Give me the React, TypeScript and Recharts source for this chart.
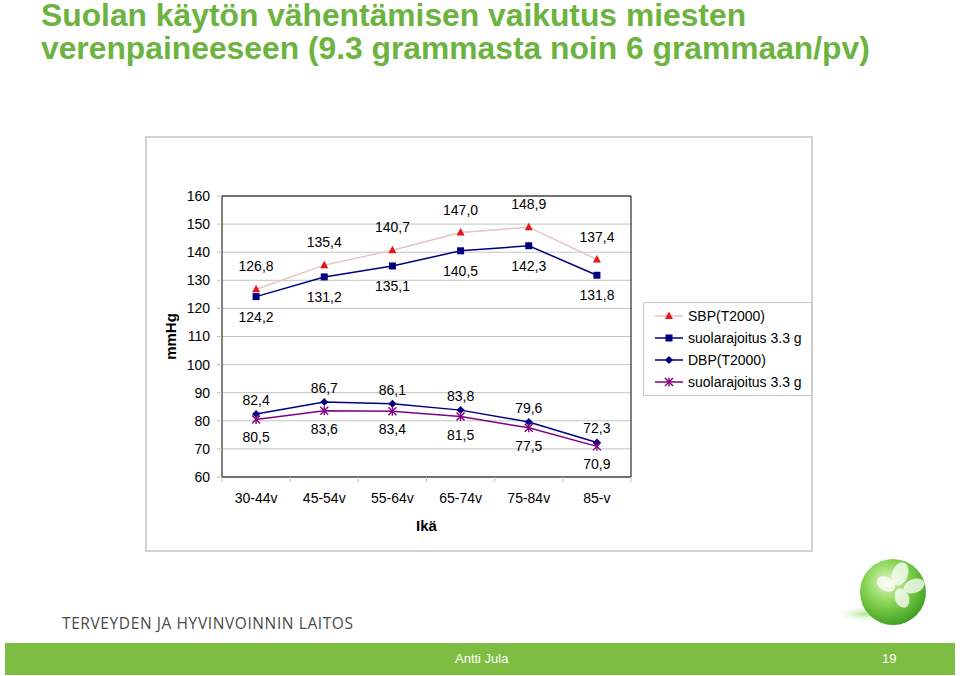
import { LineChart, Line, XAxis, YAxis, CartesianGrid, LabelList } from 'recharts';

const categories = ['30-44v', '45-54v', '55-64v', '65-74v', '75-84v', '85-v'];
const sbpT2000 = [126.8, 135.4, 140.7, 147.0, 148.9, 137.4];
const sbpSalt = [124.2, 131.2, 135.1, 140.5, 142.3, 131.8];
const dbpT2000 = [82.4, 86.7, 86.1, 83.8, 79.6, 72.3];
const dbpSalt = [80.5, 83.6, 83.4, 81.5, 77.5, 70.9];
const yTicks = [60, 70, 80, 90, 100, 110, 120, 130, 140, 150, 160];

const data = categories.map((age, i) => ({
  age,
  sbpT2000: sbpT2000[i],
  sbpSalt: sbpSalt[i],
  dbpT2000: dbpT2000[i],
  dbpSalt: dbpSalt[i],
}));

const FONT = 'Arial, "Liberation Sans", sans-serif';
const NAVY = '#000080';
const PURPLE = '#800080';
const RED = '#e8141b';
const PINK = '#e6c4c4';

// plot area: x 222..631, y 196..477
const PLOT_W = 409;
const BAND = PLOT_W / categories.length;

const fmt = (v: number) => v.toFixed(1).replace('.', ',');

type Shape = 'triangle' | 'square' | 'diamond' | 'star';

function Marker({ cx, cy, shape, color }: { cx: number; cy: number; shape: Shape; color: string }) {
  if (cx == null || cy == null) return null;
  if (shape === 'triangle')
    return <polygon points={`${cx},${cy - 4.5} ${cx + 4},${cy + 3} ${cx - 4},${cy + 3}`} fill={color} />;
  if (shape === 'square') return <rect x={cx - 3.5} y={cy - 3.5} width={7} height={7} fill={color} />;
  if (shape === 'diamond')
    return <polygon points={`${cx},${cy - 4} ${cx + 4},${cy} ${cx},${cy + 4} ${cx - 4},${cy}`} fill={color} />;
  return (
    <g stroke={color} strokeWidth={1.4}>
      <line x1={cx - 4} y1={cy - 4} x2={cx + 4} y2={cy + 4} />
      <line x1={cx - 4} y1={cy + 4} x2={cx + 4} y2={cy - 4} />
      <line x1={cx} y1={cy - 4.5} x2={cx} y2={cy + 4.5} />
    </g>
  );
}

const series: { key: string; name: string; line: string; marker: string; shape: Shape; dy: number }[] = [
  { key: 'sbpT2000', name: 'SBP(T2000)', line: PINK, marker: RED, shape: 'triangle', dy: -23 },
  { key: 'sbpSalt', name: 'suolarajoitus 3.3 g', line: NAVY, marker: NAVY, shape: 'square', dy: 20 },
  { key: 'dbpT2000', name: 'DBP(T2000)', line: NAVY, marker: NAVY, shape: 'diamond', dy: -14 },
  { key: 'dbpSalt', name: 'suolarajoitus 3.3 g', line: PURPLE, marker: PURPLE, shape: 'star', dy: 18 },
];

function AgeTick(props: any) {
  const { x, y, payload, index } = props;
  const last = index === categories.length - 1;
  return (
    <g>
      <line x1={x - BAND / 2} y1={y} x2={x - BAND / 2} y2={y + 5} stroke="#c0c0c0" />
      {last && <line x1={x + BAND / 2} y1={y} x2={x + BAND / 2} y2={y + 5} stroke="#c0c0c0" />}
      <text x={x} y={y + 21} textAnchor="middle" dominantBaseline="central" fontSize={14} fontFamily={FONT} fill="#000">
        {payload.value}
      </text>
    </g>
  );
}

function makeLabel(dy: number) {
  return (props: any) => {
    const { x, y, value } = props;
    return (
      <text x={x} y={y + dy} textAnchor="middle" dominantBaseline="central" fontSize={14} fontFamily={FONT} fill="#000">
        {fmt(value)}
      </text>
    );
  };
}

function Legend() {
  return (
    <svg
      width={170}
      height={95}
      style={{ position: 'absolute', left: 643, top: 302 }}
    >
      <rect x={0.5} y={0.5} width={168} height={93} fill="#fff" stroke="#c8c8c8" />
      {series.map((s, i) => {
        const y = 14 + i * 22;
        return (
          <g key={s.key + i}>
            <line x1={12} y1={y} x2={40} y2={y} stroke={s.line} strokeWidth={1.5} />
            <Marker cx={26} cy={y} shape={s.shape} color={s.marker} />
            <text x={45} y={y} dominantBaseline="central" fontSize={14} fontFamily={FONT} fill="#000">
              {s.name}
            </text>
          </g>
        );
      })}
    </svg>
  );
}

function Ball() {
  return (
    <svg width={120} height={90} style={{ position: 'absolute', left: 818, top: 552 }}>
      <defs>
        <radialGradient id="ballG" cx="0.4" cy="0.35" r="0.7">
          <stop offset="0" stopColor="#e2f7c8" />
          <stop offset="0.45" stopColor="#8ad656" />
          <stop offset="1" stopColor="#3a9a1a" />
        </radialGradient>
        <radialGradient id="shadowG" cx="0.5" cy="0.5" r="0.5">
          <stop offset="0" stopColor="#9ade78" stopOpacity="0.8" />
          <stop offset="1" stopColor="#ffffff" stopOpacity="0" />
        </radialGradient>
      </defs>
      <ellipse cx={48} cy={62} rx={34} ry={9} fill="url(#shadowG)" />
      <circle cx={75} cy={40} r={33} fill="url(#ballG)" />
      <g fill="#ffffff" opacity={0.75}>
        <ellipse cx={82} cy={22} rx={8} ry={12} transform="rotate(20 82 22)" />
        <ellipse cx={96} cy={34} rx={7} ry={11} transform="rotate(70 96 34)" />
        <ellipse cx={84} cy={46} rx={7} ry={10} transform="rotate(-20 84 46)" />
        <ellipse cx={68} cy={32} rx={7} ry={10} transform="rotate(-60 68 32)" />
      </g>
    </svg>
  );
}

const titleStyle = {
  position: 'absolute' as const,
  left: 41,
  fontFamily: FONT,
  fontWeight: 'bold' as const,
  fontSize: 31.8,
  lineHeight: '31px',
  color: '#6cb33f',
  whiteSpace: 'nowrap' as const,
};

export default function App() {
  return (
    <div style={{ position: 'absolute', left: 0, top: 0, width: 960, height: 676, background: '#fff', overflow: 'hidden' }}>
      <div style={{ ...titleStyle, top: 0 }}>Suolan käytön vähentämisen vaikutus miesten</div>
      <div style={{ ...titleStyle, top: 33 }}>verenpaineeseen (9.3 grammasta noin 6 grammaan/pv)</div>

      <div
        style={{
          position: 'absolute',
          left: 145,
          top: 136,
          width: 664,
          height: 412,
          border: '2px solid #d2d2d2',
        }}
      />

      <div style={{ position: 'absolute', left: 0, top: 0 }}>
        <LineChart width={960} height={676} data={data} margin={{ top: 196, right: 329, bottom: 159, left: 162 }}>
          <CartesianGrid horizontal vertical={false} stroke="#c4c4c4" />
          {/* black frame on the top and right edges of the plot area */}
          <CartesianGrid
            stroke="#000"
            horizontalCoordinatesGenerator={({ offset }: any) => [offset.top]}
            verticalCoordinatesGenerator={({ offset }: any) => [offset.left + offset.width]}
          />
          <XAxis
            dataKey="age"
            padding={{ left: BAND / 2, right: BAND / 2 }}
            height={40}
            tickSize={0}
            tickMargin={0}
            tickLine={false}
            axisLine={{ stroke: '#000' }}
            tick={<AgeTick />}
            interval={0}
            label={{
              content: (p: any) => (
                <text
                  x={p.viewBox.x + p.viewBox.width / 2}
                  y={p.viewBox.y + 48}
                  textAnchor="middle"
                  dominantBaseline="central"
                  fontSize={15}
                  fontWeight="bold"
                  fontFamily={FONT}
                  fill="#000"
                >
                  Ikä
                </text>
              ),
            }}
          />
          <YAxis
            width={60}
            domain={[60, 160]}
            ticks={yTicks}
            interval={0}
            tickSize={5}
            tickMargin={7}
            tickLine={{ stroke: '#c0c0c0' }}
            axisLine={{ stroke: '#000' }}
            tick={{ fontSize: 14, fontFamily: FONT, fill: '#000' }}
            label={{
              content: (p: any) => {
                const x = p.viewBox.x + 8;
                const y = p.viewBox.y + p.viewBox.height / 2;
                return (
                  <text
                    x={x}
                    y={y}
                    transform={`rotate(-90 ${x} ${y})`}
                    textAnchor="middle"
                    dominantBaseline="central"
                    fontSize={15}
                    fontWeight="bold"
                    fontFamily={FONT}
                    fill="#000"
                  >
                    mmHg
                  </text>
                );
              },
            }}
          />
          {series.map((s) => (
            <Line
              key={s.key}
              dataKey={s.key}
              name={s.name}
              stroke={s.line}
              strokeWidth={1.5}
              isAnimationActive={false}
              dot={(p: any) => <Marker key={`${s.key}-${p.index}`} cx={p.cx} cy={p.cy} shape={s.shape} color={s.marker} />}
              activeDot={false}
            >
              <LabelList dataKey={s.key} content={makeLabel(s.dy)} />
            </Line>
          ))}
        </LineChart>
      </div>

      <Legend />
      <Ball />

      <div
        style={{
          position: 'absolute',
          left: 62,
          top: 612,
          fontFamily: '"Open Sans", sans-serif',
          fontSize: 15.5,
          letterSpacing: 0.6,
          color: '#4a4a4a',
          whiteSpace: 'nowrap',
        }}
      >
        TERVEYDEN JA HYVINVOINNIN LAITOS
      </div>

      <div style={{ position: 'absolute', left: 5, top: 643, width: 950, height: 32, background: '#7dbd42' }}>
        <span style={{ position: 'absolute', left: 450, top: 8, fontFamily: FONT, fontSize: 13, color: '#fff' }}>Antti Jula</span>
        <span style={{ position: 'absolute', left: 877, top: 8, fontFamily: FONT, fontSize: 13, color: '#fff' }}>19</span>
      </div>
    </div>
  );
}
